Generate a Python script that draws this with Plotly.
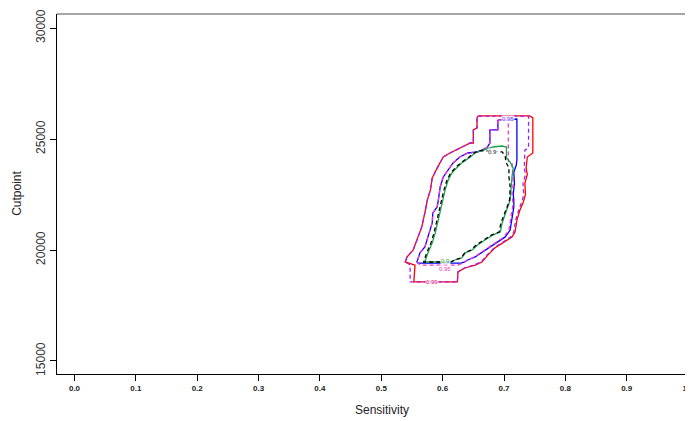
import plotly.graph_objects as go

# ---- data ----
red99_x = [0.658, 0.742, 0.747, 0.747, 0.738, 0.736, 0.738, 0.734, 0.735, 0.733, 0.731, 0.726, 0.721, 0.718, 0.713, 0.698, 0.685, 0.674, 0.664, 0.653, 0.636, 0.625, 0.624, 0.553, 0.555, 0.539, 0.542, 0.552, 0.560, 0.566, 0.571, 0.575, 0.580, 0.583, 0.591, 0.601, 0.612, 0.628, 0.645, 0.650, 0.650, 0.656, 0.656, 0.658]
red99_y = [26040, 26040, 25950, 24370, 24190, 23700, 23400, 23000, 22500, 22250, 22120, 21800, 21350, 20810, 20590, 20320, 20090, 19780, 19460, 19320, 19190, 19010, 18560, 18560, 19320, 19460, 19690, 20000, 20590, 21040, 21670, 22250, 22700, 23240, 23690, 24190, 24370, 24600, 24820, 24820, 25410, 25500, 25950, 26040]

purple99_x = [0.658, 0.740, 0.740, 0.734, 0.733, 0.735, 0.731, 0.732, 0.730, 0.728, 0.724, 0.719, 0.716, 0.711, 0.697, 0.684, 0.673, 0.663, 0.652, 0.636, 0.625, 0.624, 0.547, 0.547, 0.539, 0.542, 0.552, 0.560, 0.566, 0.571, 0.575, 0.580, 0.583, 0.591, 0.601, 0.612, 0.628, 0.645, 0.650, 0.650, 0.656, 0.656, 0.658]
purple99_y = [26030, 26030, 24600, 24500, 23700, 23400, 23000, 22500, 22250, 22120, 21800, 21350, 20810, 20590, 20330, 20100, 19790, 19470, 19330, 19200, 19020, 18560, 18560, 19330, 19460, 19690, 20000, 20590, 21040, 21670, 22250, 22700, 23240, 23690, 24190, 24370, 24600, 24820, 24820, 25410, 25500, 25950, 26030]

blue95_x = [0.690, 0.721, 0.721, 0.720, 0.716, 0.717, 0.715, 0.716, 0.716, 0.713, 0.710, 0.702, 0.690, 0.677, 0.666, 0.653, 0.641, 0.636, 0.630, 0.560, 0.558, 0.563, 0.571, 0.576, 0.583, 0.584, 0.591, 0.593, 0.596, 0.601, 0.609, 0.617, 0.628, 0.641, 0.657, 0.672, 0.677, 0.677, 0.690, 0.690]
blue95_y = [25860, 25900, 24060, 23830, 23500, 23000, 22500, 22250, 21940, 21350, 20900, 20590, 20360, 20140, 19910, 19690, 19550, 19460, 19410, 19410, 19460, 19870, 20140, 20590, 21220, 21670, 21940, 22250, 22840, 23290, 23600, 23920, 24190, 24370, 24420, 24600, 24820, 25410, 25410, 25860]

magenta95_x = [0.690, 0.707, 0.707, 0.713, 0.714, 0.715, 0.713, 0.714, 0.714, 0.711, 0.708, 0.700, 0.688, 0.676, 0.665, 0.652, 0.640, 0.632, 0.625, 0.563, 0.558, 0.563, 0.571, 0.576, 0.583, 0.584, 0.591, 0.593, 0.596, 0.601, 0.609, 0.617, 0.628, 0.641, 0.657, 0.672, 0.677, 0.677, 0.690, 0.690]
magenta95_y = [25860, 25860, 24000, 23900, 23500, 23000, 22500, 22250, 21940, 21350, 20900, 20590, 20360, 20140, 19910, 19690, 19550, 19400, 19320, 19320, 19460, 19870, 20140, 20590, 21220, 21670, 21940, 22250, 22840, 23290, 23600, 23920, 24190, 24370, 24420, 24600, 24820, 25410, 25410, 25860]

green90_x = [0.681, 0.697, 0.704, 0.704, 0.710, 0.715, 0.713, 0.712, 0.710, 0.706, 0.702, 0.697, 0.694, 0.682, 0.669, 0.657, 0.648, 0.637, 0.631, 0.620, 0.615, 0.571, 0.576, 0.583, 0.588, 0.593, 0.596, 0.601, 0.604, 0.609, 0.615, 0.624, 0.633, 0.645, 0.653, 0.666, 0.681]
green90_y = [24640, 24685, 24640, 24145, 23960, 23700, 23290, 22840, 22250, 21940, 21580, 21220, 20810, 20680, 20450, 20230, 20000, 19870, 19640, 19550, 19460, 19460, 19870, 20320, 20770, 21350, 21800, 22250, 22700, 23150, 23470, 23740, 23960, 24190, 24370, 24500, 24640]

black90_x = [0.660, 0.688, 0.697, 0.702, 0.703, 0.708, 0.708, 0.710, 0.709, 0.705, 0.700, 0.695, 0.692, 0.680, 0.667, 0.655, 0.646, 0.636, 0.630, 0.619, 0.613, 0.569, 0.574, 0.581, 0.586, 0.591, 0.594, 0.599, 0.602, 0.607, 0.613, 0.622, 0.631, 0.643, 0.651, 0.660]
black90_y = [24480, 24420, 24420, 24230, 23960, 23700, 23290, 22840, 22250, 21940, 21580, 21220, 20810, 20680, 20450, 20230, 20000, 19870, 19640, 19550, 19460, 19460, 19870, 20320, 20770, 21350, 21800, 22250, 22700, 23150, 23470, 23740, 23960, 24190, 24370, 24480]

x_ticks = [0.0, 0.1, 0.2, 0.3, 0.4, 0.5, 0.6, 0.7, 0.8, 0.9, 1.0]
x_tick_labels = ["0.0", "0.1", "0.2", "0.3", "0.4", "0.5", "0.6", "0.7", "0.8", "0.9", "1.0"]
y_ticks = [15000, 20000, 25000, 30000]
y_tick_labels = ["15000", "20000", "25000", "30000"]

# contour labels
label_text = ["0.99", "0.95", "0.9", "0.95", "0.9"]
label_x = [0.583, 0.604, 0.604, 0.707, 0.682]
label_y = [18560, 19150, 19510, 25900, 24420]
label_col = ["#e0107a", "#e040c0", "#1fa34a", "#5a3cff", "#333333"]

FONT = "Liberation Sans, Arial, sans-serif"

fig = go.Figure()

series = [
    (red99_x, red99_y, "#ff0000", "solid"),
    (purple99_x, purple99_y, "#a020f0", "4px,3px"),
    (blue95_x, blue95_y, "#0000ff", "solid"),
    (magenta95_x, magenta95_y, "#ff33cc", "4px,3px"),
    (green90_x, green90_y, "#1fa34a", "solid"),
    (black90_x, black90_y, "#000000", "4px,3px"),
]
for xs, ys, col, dash in series:
    fig.add_trace(go.Scatter(x=xs, y=ys, mode="lines",
                             line=dict(color=col, width=1.3, dash=dash),
                             hoverinfo="skip", showlegend=False))

for t, lx, ly, c in zip(label_text, label_x, label_y, label_col):
    fig.add_annotation(x=lx, y=ly, text=t, showarrow=False,
                       font=dict(family=FONT, size=6, color=c),
                       bgcolor="rgba(255,255,255,0.85)", borderpad=0)

fig.add_annotation(xref="paper", yref="paper", x=0.511, y=-0.1, text="Sensitivity",
                   showarrow=False, font=dict(family=FONT, size=12, color="#222"),
                   xanchor="center", yanchor="middle")
fig.add_annotation(xref="paper", yref="paper", x=-0.063, y=0.503, text="Cutpoint",
                   showarrow=False, textangle=-90,
                   font=dict(family=FONT, size=12, color="#222"),
                   xanchor="center", yanchor="middle")

fig.add_shape(type="line", xref="paper", yref="paper", x0=0, x1=1, y0=1, y1=1,
              line=dict(color="#888888", width=1.5))

# the page body has an 8px default margin, so the figure is sized to fit inside
fig.update_layout(
    width=685, height=413,
    margin=dict(l=49, r=0, t=6, b=47),
    paper_bgcolor="white", plot_bgcolor="white",
    font=dict(family=FONT),
    xaxis=dict(range=[-0.0285, 1.008], showgrid=False, zeroline=False,
               showline=True, linecolor="black", linewidth=1.2,
               ticks="outside", ticklen=6, tickcolor="black",
               tickvals=x_ticks, ticktext=["<b>" + s + "</b>" for s in x_tick_labels],
               ticklabeloverflow="allow",
               tickfont=dict(family=FONT, size=8, color="#222")),
    yaxis=dict(range=[14414, 30632], showgrid=False, zeroline=False,
               showline=True, linecolor="black", linewidth=1.2,
               ticks="outside", ticklen=6, tickcolor="black",
               tickvals=y_ticks, ticktext=y_tick_labels, tickangle=-90,
               tickfont=dict(family=FONT, size=12, color="#333")),
)

fig.write_html("out.html")
